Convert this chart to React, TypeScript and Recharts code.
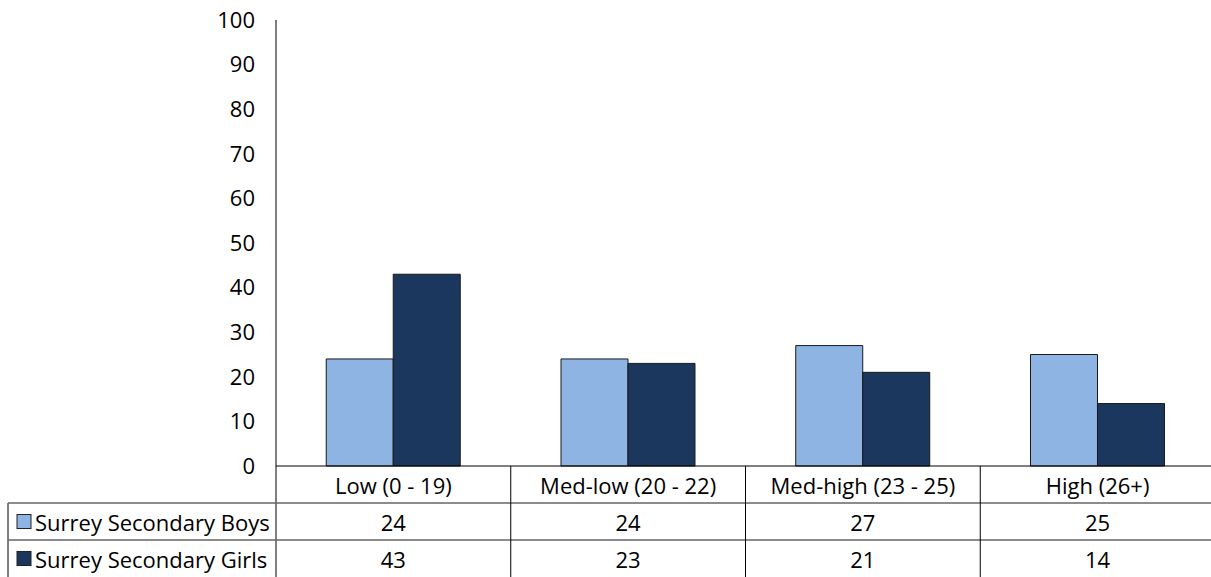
import { BarChart, Bar, XAxis, YAxis } from "recharts"

const categories = ["Low (0 - 19)", "Med-low (20 - 22)", "Med-high (23 - 25)", "High (26+)"]
const boys = [24, 24, 27, 25]
const girls = [43, 23, 21, 14]
const seriesNames = ["Surrey Secondary Boys", "Surrey Secondary Girls"]
const yTicks = [0, 10, 20, 30, 40, 50, 60, 70, 80, 90, 100]

const COLORS = ["#8EB4E3", "#1B375D"]
const FONT = "'Open Sans', Lato, sans-serif"
const FS = 22

const W = 1211
const H = 577
const PLOT_LEFT = 276
const PLOT_RIGHT = 1215
const PLOT_TOP = 20
const AXIS_Y = 466
const ROW1 = 503
const ROW2 = 540
const BAND = (PLOT_RIGHT - PLOT_LEFT) / categories.length

const data = categories.map((name, i) => ({ name, boys: boys[i], girls: girls[i] }))
const rows = [boys, girls]

function TableTick(props: any) {
  const { x, index, payload } = props
  const rowMid = [(AXIS_Y + ROW1) / 2, (ROW1 + ROW2) / 2, (ROW2 + H) / 2]
  return (
    <g>
      {index === 0 && (
        <g>
          <line x1={PLOT_LEFT} x2={PLOT_LEFT} y1={AXIS_Y} y2={H} stroke="#000" />
          <line x1={8} x2={8} y1={ROW1} y2={H} stroke="#000" />
          <line x1={8} x2={W} y1={ROW1} y2={ROW1} stroke="#666" strokeWidth={1.5} />
          <line x1={8} x2={W} y1={ROW2} y2={ROW2} stroke="#666" strokeWidth={1.5} />
          {seriesNames.map((s, r) => (
            <g key={s}>
              <rect
                x={17}
                y={rowMid[r + 1] - 7}
                width={14}
                height={14}
                fill={COLORS[r]}
                stroke="#222"
                strokeWidth={1}
              />
              <text
                x={35}
                y={rowMid[r + 1]}
                dominantBaseline="central"
                fontSize={FS}
                fontFamily={FONT}
                fill="#000"
              >
                {s}
              </text>
            </g>
          ))}
        </g>
      )}
      <line x1={x + BAND / 2} x2={x + BAND / 2} y1={AXIS_Y} y2={H} stroke="#000" />
      <text
        x={x}
        y={rowMid[0]}
        textAnchor="middle"
        dominantBaseline="central"
        fontSize={FS}
        fontFamily={FONT}
        fill="#000"
      >
        {payload.value}
      </text>
      {rows.map((vals, r) => (
        <text
          key={r}
          x={x}
          y={rowMid[r + 1]}
          textAnchor="middle"
          dominantBaseline="central"
          fontSize={FS}
          fontFamily={FONT}
          fill="#000"
        >
          {vals[index]}
        </text>
      ))}
    </g>
  )
}

export default function App() {
  return (
    <div style={{ position: "absolute", left: 0, top: 0, background: "#fff" }}>
      <BarChart
        width={W}
        height={H}
        data={data}
        margin={{ top: PLOT_TOP, right: W - PLOT_RIGHT, bottom: 0, left: 0 }}
        barCategoryGap="21.4%"
        barGap={0}
      >
        <XAxis
          dataKey="name"
          height={H - AXIS_Y}
          axisLine={{ stroke: "#000" }}
          tickLine={false}
          interval={0}
          tick={<TableTick />}
        />
        <YAxis
          width={PLOT_LEFT}
          domain={[0, 100]}
          ticks={yTicks}
          axisLine={{ stroke: "#000" }}
          tickLine={false}
          tickMargin={15}
          tick={{ fontSize: FS, fontFamily: FONT, fill: "#000" }}
        />
        <Bar dataKey="boys" fill={COLORS[0]} stroke="#1a1a1a" strokeWidth={1} isAnimationActive={false} />
        <Bar dataKey="girls" fill={COLORS[1]} stroke="#1a1a1a" strokeWidth={1} isAnimationActive={false} />
      </BarChart>
    </div>
  )
}
